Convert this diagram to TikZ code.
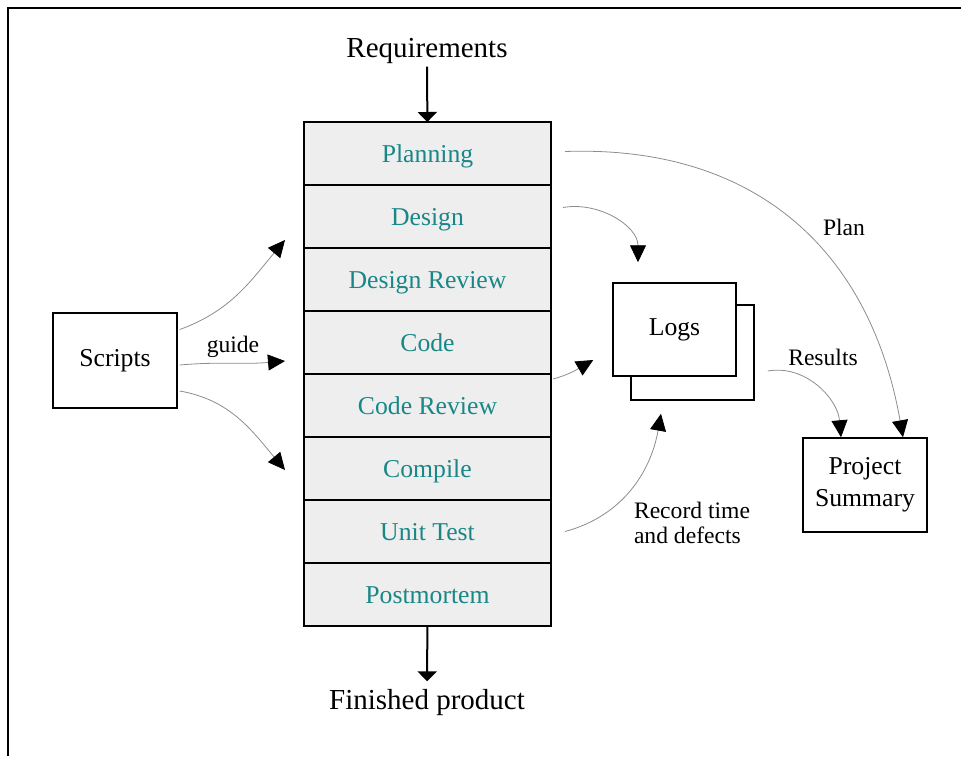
\documentclass[tikz,border=0pt]{standalone}
\usepackage{fontspec}
\setmainfont{Liberation Serif}
\usetikzlibrary{positioning}
\usetikzlibrary{arrows.meta}

\definecolor{stagetext}{RGB}{25,135,135}
\definecolor{stagefill}{RGB}{238,238,238}

\begin{document}
\begin{tikzpicture}[
  x=1pt, y=-1pt,
  stage/.style = {draw, line width=2pt, fill=stagefill, text=stagetext,
    minimum width=247pt, minimum height=63pt, inner sep=0pt, outer sep=0pt,
    text height=19pt, text depth=2pt, font=\fontsize{25.7}{30}\selectfont},
  box/.style = {draw, line width=1.5pt, fill=white, align=center,
    minimum width=124pt, minimum height=95pt,
    font=\fontsize{25.7}{32}\selectfont},
  big/.style = {font=\fontsize{29}{34}\selectfont},
  small/.style = {font=\fontsize{23.6}{25}\selectfont, align=left},
  flow/.style = {draw=black!45, line width=0.8pt,
    -{Triangle[length=17pt,width=16pt,color=black]}},
  main/.style = {line width=2pt, -{Triangle[length=10pt,width=19pt]}}
]

  \useasboundingbox (0,0) rectangle (961,756);
  \draw[line width=2pt] (8,756) -- (8,8) -- (961,8);

  % process stack
  \node[big, anchor=base] (req) at (427,57) {Requirements};
  \node[stage] (plan) at (427.5,153.5) {Planning};
  \node[stage, below=0pt of plan] (design) {Design};
  \node[stage, below=0pt of design] (desrev) {Design Review};
  \node[stage, below=0pt of desrev] (code) {Code};
  \node[stage, below=0pt of code] (coderev) {Code Review};
  \node[stage, below=0pt of coderev] (compile) {Compile};
  \node[stage, below=0pt of compile] (utest) {Unit Test};
  \node[stage, below=0pt of utest] (pm) {Postmortem};
  \node[big, anchor=base] (fin) at (427,709) {Finished product};

  \draw[main] (req) -- (plan);
  \draw[main, shorten >=4pt] (pm) -- (fin);

  % scripts
  \node[box] (scripts) at (115,360.5) {Scripts};
  \coordinate (up) at (285,240);
  \coordinate (mid) at (285,361);
  \coordinate (down) at (285,470);
  \draw[flow] ([xshift=2pt,yshift=31pt]scripts.east) to[out=20,in=230] (up);
  \draw[flow] ([xshift=2pt,yshift=-4.5pt]scripts.east) to[out=5,in=185] (mid);
  \draw[flow] ([xshift=2pt,yshift=-30.5pt]scripts.east) to[out=-10,in=130] (down);
  \node[small, anchor=base] (guide) at (233,352) {guide};

  % logs
  \node[box, minimum width=123pt] (logsb) at (692.5,352.5) {};
  \node[box, minimum width=123pt, minimum height=93pt] (logs) at (674.5,329.5) {Logs};
  \node[box, minimum height=94pt] (summary) at (865,485) {Project\\Summary};

  \draw[flow] ([xshift=14pt,yshift=2pt]plan.east) to[out=2,in=100,looseness=1.1] ([xshift=38pt]summary.north);
  \draw[flow] ([xshift=12pt,yshift=9pt]design.east) to[out=10,in=90] ([xshift=-36.5pt,yshift=20pt]logs.north);
  \draw[flow] ([xshift=2pt,yshift=26.5pt]coderev.east) to[out=15,in=210] ([xshift=-19pt,yshift=-30.5pt]logs.west);
  \draw[flow] ([xshift=14pt]utest.east) to[out=15,in=-100] ([xshift=-31.5pt,yshift=-13pt]logsb.south);
  \draw[flow] ([xshift=13pt,yshift=-18.5pt]logsb.east) to[out=10,in=95] ([xshift=-24pt]summary.north);

  \node[small, anchor=base] (planlbl) at (844,235) {Plan};
  \node[small, anchor=base] (results) at (823,365) {Results};
  \node[small] (record) at (692,523) {Record time\\and defects};

\end{tikzpicture}
\end{document}
